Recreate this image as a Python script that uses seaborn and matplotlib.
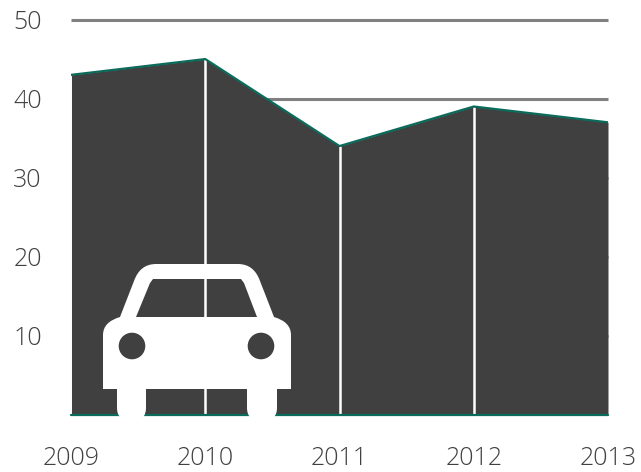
import matplotlib
matplotlib.use('Agg')
import matplotlib.pyplot as plt
import pandas as pd
import seaborn as sns
from matplotlib.patches import Circle, PathPatch
from matplotlib.path import Path
from matplotlib.transforms import Affine2D, blended_transform_factory

years = [2009, 2010, 2011, 2012, 2013]
values = [43, 45, 34, 39, 37]
y_ticks = [10, 20, 30, 40, 50]

W, H = 641, 472
TEXT = '#404040'
FILL = '#404040'
TEAL = '#0b6b5b'

sns.set_theme(style='white')
plt.rcParams['font.family'] = ['Open Sans', 'DejaVu Sans']

df = pd.DataFrame({'year': years, 'value': values})

fig = plt.figure(figsize=(W / 100, H / 100), dpi=100)
ax = fig.add_axes([71 / W, (H - 415) / H, (608 - 71) / W, (415 - 19.5) / H])

ax.set_xlim(2009, 2013)
ax.set_ylim(0, 50)
ax.set_axisbelow(True)
ax.yaxis.grid(True, color='#808080', lw=2.2, clip_on=False, solid_capstyle='butt')
ax.xaxis.grid(False)
ax.fill_between(years, values, 0, color=FILL, lw=0, zorder=2)
ax.vlines(years[1:4], 0, values[1:4], color='white', lw=1.8, zorder=3)
ax.vlines(years[0], 0, values[0], color='white', lw=0.7, zorder=3)
ax.vlines(years[4], 0, values[4], color='white', lw=0.7, zorder=3)
sns.lineplot(data=df, x='year', y='value', color=TEAL, lw=1.6, ax=ax, zorder=4)
ax.axhline(0, color=TEAL, lw=1.6, zorder=4, clip_on=False)

for s in ax.spines.values():
    s.set_visible(False)
ax.set_xlabel('')
ax.set_ylabel('')
ax.set_xticks(years)
ax.set_yticks(y_ticks)
ax.tick_params(axis='x', length=0, pad=22, labelsize=18, labelcolor=TEXT)
ax.tick_params(axis='y', length=0, pad=21, labelsize=18, labelcolor=TEXT)
for t in ax.get_xticklabels() + ax.get_yticklabels():
    t.set_fontweight('light')

# car icon, laid out in image pixels (origin top left)
px = Affine2D().scale(1, -1).translate(0, H)
M, L, Q, Z = Path.MOVETO, Path.LINETO, Path.CURVE3, Path.CLOSEPOLY
body = [
    (M, (103, 389)), (L, (103, 335)), (Q, (103, 322)), (Q, (120, 317)),
    (L, (134, 281)), (Q, (140, 264)), (Q, (156, 264)), (L, (238, 264)),
    (Q, (254, 264)), (Q, (260, 281)), (L, (274, 317)), (Q, (291, 322)),
    (Q, (291, 335)), (L, (291, 389)), (L, (277, 389)), (L, (277, 408)),
    (Q, (277, 421)), (Q, (262, 421)), (Q, (247, 421)), (Q, (247, 408)),
    (L, (247, 389)), (L, (146, 389)), (L, (146, 408)), (Q, (146, 421)),
    (Q, (132, 421)), (Q, (117, 421)), (Q, (117, 408)), (L, (117, 389)),
    (Z, (103, 389)),
]
codes, verts = zip(*body)
car = PathPatch(Path(verts, codes), fc='white', ec='none', transform=px, zorder=5, clip_on=False)
fig.add_artist(car)
window = [(136, 317), (150, 283), (153, 279), (241, 279), (244, 283), (257, 317), (136, 317)]
win_codes = [M] + [L] * 5 + [Z]
fig.add_artist(PathPatch(Path(window, win_codes), fc=FILL, ec='none', transform=px, zorder=6))
for cx in (132, 261):
    fig.add_artist(Circle((cx, 346), 13.3, fc=FILL, ec='none', transform=px, zorder=6))
# the 2010 line shows through the windscreen
through = blended_transform_factory(ax.transData, px)
fig.add_artist(plt.Line2D([years[1], years[1]], [279, 317], color='white', lw=1.8, transform=through, zorder=7))

fig.savefig('out.png', dpi=100)
